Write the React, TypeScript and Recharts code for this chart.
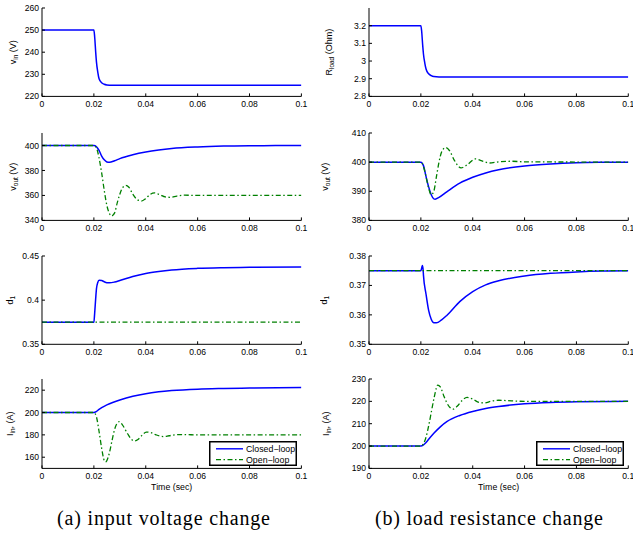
import React from 'react';
import { LineChart, Line, XAxis, YAxis, Legend } from 'recharts';

// ---------- shared ticks ----------
const timeTicks = [0, 0.02, 0.04, 0.06, 0.08, 0.1];

// ---------- (a) input voltage change ----------
const aVinT = [0, 0.02, 0.0203, 0.0207, 0.021, 0.0215, 0.022, 0.023, 0.024, 0.025, 0.027, 0.1];
const aVinClosed = [250, 250, 247, 240, 235.5, 231, 228, 226.2, 225.5, 225.2, 225, 225];

const aVoutClosedT = [0, 0.02, 0.021, 0.022, 0.023, 0.024, 0.025, 0.026, 0.028, 0.03, 0.035, 0.04, 0.045, 0.05, 0.06, 0.07, 0.08, 0.09, 0.1];
const aVoutClosed = [400, 400, 399, 396, 391.5, 388.5, 386.8, 386.5, 387.8, 389.5, 392.5, 394.7, 396.3, 397.5, 398.8, 399.5, 399.8, 399.9, 400];
const aVoutOpenT = [0, 0.02, 0.021, 0.022, 0.023, 0.024, 0.025, 0.026, 0.0268, 0.028, 0.029, 0.03, 0.031, 0.0323, 0.0335, 0.035, 0.0365, 0.0383, 0.04, 0.0415, 0.0434, 0.0455, 0.0475, 0.0495, 0.052, 0.055, 0.06, 0.1];
const aVoutOpen = [400, 400, 398, 390, 378, 364, 352, 345.5, 343.5, 346, 354, 361, 366, 368, 366.5, 361, 357, 355.5, 357.5, 360.5, 362, 360.5, 358.8, 358.5, 359.5, 360.2, 360, 360];

const aD1ClosedT = [0, 0.02, 0.0203, 0.0207, 0.021, 0.0215, 0.022, 0.023, 0.024, 0.025, 0.026, 0.028, 0.03, 0.035, 0.04, 0.045, 0.05, 0.06, 0.07, 0.08, 0.1];
const aD1Closed = [0.375, 0.375, 0.385, 0.402, 0.413, 0.42, 0.4225, 0.4222, 0.4208, 0.4198, 0.4196, 0.4205, 0.4222, 0.4268, 0.4302, 0.4325, 0.4342, 0.436, 0.4368, 0.4372, 0.4375];
const aD1OpenT = [0, 0.1];
const aD1Open = [0.375, 0.375];

const aIinClosedT = [0, 0.02, 0.021, 0.022, 0.023, 0.025, 0.0275, 0.03, 0.035, 0.04, 0.045, 0.05, 0.06, 0.07, 0.08, 0.1];
const aIinClosed = [200, 200, 201, 202.8, 204.3, 206.8, 209.2, 211.2, 214.5, 216.9, 218.5, 219.6, 220.9, 221.5, 221.9, 222.3];
const aIinOpenT = [0, 0.02, 0.021, 0.022, 0.023, 0.024, 0.0245, 0.025, 0.026, 0.027, 0.028, 0.029, 0.0298, 0.031, 0.033, 0.0345, 0.0357, 0.037, 0.0385, 0.0402, 0.042, 0.044, 0.0467, 0.049, 0.052, 0.055, 0.06, 0.1];
const aIinOpen = [200, 200, 196, 183, 168, 157, 155.8, 157, 164, 175, 185, 190.5, 191.8, 189, 181, 176, 174.6, 175.8, 179.5, 182.5, 182, 180, 178.5, 179.2, 180.2, 180.2, 180, 180];

// ---------- (b) load resistance change ----------
const bRloadT = [0, 0.02, 0.0203, 0.0207, 0.021, 0.0215, 0.022, 0.023, 0.024, 0.025, 0.027, 0.1];
const bRloadClosed = [3.2, 3.2, 3.17, 3.09, 3.04, 2.99, 2.955, 2.928, 2.917, 2.912, 2.91, 2.91];

const bVoutClosedT = [0, 0.02, 0.021, 0.022, 0.023, 0.024, 0.025, 0.0255, 0.027, 0.03, 0.035, 0.04, 0.045, 0.05, 0.06, 0.07, 0.08, 0.09, 0.1];
const bVoutClosed = [400, 400, 398.8, 395, 391.5, 388.8, 387.4, 387.3, 387.9, 389.8, 392.8, 394.8, 396.3, 397.4, 398.7, 399.4, 399.8, 399.95, 400];
const bVoutOpenT = [0, 0.02, 0.021, 0.022, 0.023, 0.024, 0.025, 0.026, 0.027, 0.028, 0.0295, 0.031, 0.033, 0.0355, 0.038, 0.041, 0.044, 0.0465, 0.05, 0.055, 0.06, 0.1];
const bVoutOpen = [400, 400, 398.5, 395, 391, 388.8, 390, 395, 400, 403.5, 405, 404, 400.5, 398, 399.2, 401.1, 400.3, 399.7, 400.1, 400.3, 400.1, 400];

const bD1ClosedT = [0, 0.02, 0.0204, 0.0206, 0.0209, 0.021, 0.022, 0.023, 0.024, 0.025, 0.026, 0.028, 0.03, 0.035, 0.04, 0.045, 0.05, 0.06, 0.07, 0.08, 0.09, 0.1];
const bD1Closed = [0.375, 0.375, 0.3762, 0.3768, 0.375, 0.3735, 0.367, 0.3615, 0.3585, 0.3573, 0.3573, 0.3583, 0.3598, 0.3645, 0.3679, 0.3702, 0.3716, 0.3732, 0.3741, 0.3746, 0.3749, 0.375];
const bD1OpenT = [0, 0.1];
const bD1Open = [0.375, 0.375];

const bIinClosedT = [0, 0.02, 0.021, 0.022, 0.023, 0.025, 0.0275, 0.03, 0.035, 0.04, 0.045, 0.05, 0.06, 0.07, 0.08, 0.1];
const bIinClosed = [200, 200, 200.5, 201.6, 203, 205.7, 208.6, 210.9, 213.7, 215.5, 216.8, 217.7, 218.9, 219.5, 219.8, 220];
const bIinOpenT = [0, 0.02, 0.021, 0.022, 0.023, 0.024, 0.025, 0.026, 0.0265, 0.0275, 0.029, 0.031, 0.0325, 0.034, 0.036, 0.0378, 0.04, 0.0425, 0.0445, 0.047, 0.05, 0.055, 0.06, 0.1];
const bIinOpen = [200, 200, 201, 204, 209, 215, 221, 226, 227.3, 226.5, 222, 217.5, 216.5, 217.8, 220.5, 221.8, 221, 219.5, 219.3, 220, 220.5, 220.2, 220, 220];

// ---------- y-axis ticks / domains ----------
const aVinTicks = [220, 230, 240, 250, 260];
const aVoutTicks = [340, 360, 380, 400];
const aD1Ticks = [0.35, 0.4, 0.45];
const aIinTicks = [160, 180, 200, 220];
const bRloadTicks = [2.8, 2.9, 3, 3.1, 3.2];
const bVoutTicks = [380, 390, 400, 410];
const bD1Ticks = [0.35, 0.36, 0.37, 0.38];
const bIinTicks = [190, 200, 210, 220, 230];

const legendLabels = ['Closed\u2212loop', 'Open\u2212loop'];
const captions = ['(a) input voltage change', '(b) load resistance change'];

const mk = (t: number[], v: number[]) => t.map((x, i) => ({ t: x, v: v[i] }));

const SANS = '"Liberation Sans", Arial, Helvetica, sans-serif';
const SERIF = '"Liberation Serif", "Times New Roman", Times, serif';
const BLUE = '#0000ff';
const GREEN = '#008000';
const DASHDOT = '5 2.5 1.5 2.5';

type Series = { data: { t: number; v: number }[]; open: boolean };

type PanelProps = {
  chartLeft: number;
  plotTop: number;
  plotW: number;
  plotH: number;
  yw: number;
  domain: [number, number];
  yTicks: number[];
  main: string;
  sub: string;
  rest: string;
  labelX: number;
  series: Series[];
  showTime?: boolean;
  legend?: { left: number; top: number };
};

const MT = 6;
const MR = 8;

function LegendBox() {
  return (
    <svg width={88} height={25} style={{ display: 'block' }}>
      <rect x={0.75} y={0.75} width={86.5} height={23.5} fill="#fff" stroke="#000" strokeWidth={1.5} />
      <line x1={7} x2={34} y1={7.8} y2={7.8} stroke={BLUE} strokeWidth={1.4} />
      <line x1={7} x2={34} y1={18.6} y2={18.6} stroke={GREEN} strokeWidth={1.4} strokeDasharray={DASHDOT} />
      <text x={37} y={7.8} dominantBaseline="central" fontFamily={SANS} fontSize={8.8} fill="#000">{legendLabels[0]}</text>
      <text x={37} y={18.6} dominantBaseline="central" fontFamily={SANS} fontSize={8.8} fill="#000">{legendLabels[1]}</text>
    </svg>
  );
}

function Panel(p: PanelProps) {
  const xh = p.showTime ? 30 : 18;
  const width = p.yw + p.plotW + MR;
  const height = MT + p.plotH + xh;
  const top = p.plotTop - MT;
  const tickStyle = { fill: '#000', fontSize: 8.6, fontFamily: SANS };
  const yLabel = () => (
    <text
      x={p.labelX}
      y={MT + p.plotH / 2}
      transform={`rotate(-90, ${p.labelX}, ${MT + p.plotH / 2})`}
      textAnchor="middle"
      fontFamily={SANS}
      fontSize={9}
      fill="#000"
    >
      {p.main}
      <tspan fontSize={6.5} dy={2}>{p.sub}</tspan>
      <tspan dy={-2}>{p.rest}</tspan>
    </text>
  );
  const timeLabel = () => (
    <text
      x={p.yw + p.plotW / 2}
      y={MT + p.plotH + 19}
      textAnchor="middle"
      dominantBaseline="central"
      fontFamily={SANS}
      fontSize={8.8}
      fill="#000"
    >
      Time (sec)
    </text>
  );
  return (
    <div style={{ position: 'absolute', left: p.chartLeft, top }}>
      <LineChart width={width} height={height} margin={{ top: MT, right: MR, left: 0, bottom: 0 }}>
        <XAxis
          xAxisId="b"
          dataKey="t"
          type="number"
          domain={[0, 0.1]}
          ticks={timeTicks}
          interval={0}
          allowDataOverflow
          orientation="bottom"
          height={xh}
          tickSize={-3}
          tickMargin={8}
          stroke="#000"
          tick={tickStyle}
          label={p.showTime ? { content: timeLabel } : undefined}
        />
        <XAxis
          xAxisId="t"
          dataKey="t"
          type="number"
          domain={[0, 0.1]}
          ticks={timeTicks}
          interval={0}
          allowDataOverflow
          orientation="top"
          height={0}
          tickSize={-3}
          tick={false}
          stroke="#000"
        />
        <YAxis
          yAxisId="l"
          type="number"
          domain={p.domain}
          ticks={p.yTicks}
          interval={0}
          allowDataOverflow
          width={p.yw}
          tickSize={-3}
          tickMargin={6}
          stroke="#000"
          tick={tickStyle}
          label={{ content: yLabel }}
        />
        <YAxis
          yAxisId="r"
          type="number"
          domain={p.domain}
          ticks={p.yTicks}
          interval={0}
          allowDataOverflow
          orientation="right"
          width={0}
          tickSize={-3}
          tick={false}
          stroke="#000"
        />
        {p.series.map((s, i) => (
          <Line
            key={i}
            xAxisId="b"
            yAxisId="l"
            data={s.data}
            dataKey="v"
            type="monotone"
            stroke={s.open ? GREEN : BLUE}
            strokeWidth={s.open ? 1.3 : 1.5}
            strokeDasharray={s.open ? DASHDOT : undefined}
            dot={false}
            activeDot={false}
            isAnimationActive={false}
          />
        ))}
        {p.legend ? (
          <Legend
            layout="vertical"
            align="center"
            verticalAlign="middle"
            wrapperStyle={{ left: p.legend.left, top: p.legend.top, width: 88, height: 25 }}
            content={() => <LegendBox />}
          />
        ) : null}
      </LineChart>
    </div>
  );
}

const rowTops = [8.3, 132.6, 256, 379];
const rowH = [88.4, 87.4, 88.3, 89.4];

export default function App() {
  const L = { chartLeft: 0.3, plotW: 259.4, yw: 42 };
  const R = { chartLeft: 320, plotW: 259.3, yw: 49 };
  return (
    <div style={{ position: 'absolute', left: 0, top: 0, width: 633, height: 536, overflow: 'hidden', background: '#fff' }}>
      {/* left column */}
      <Panel {...L} plotTop={rowTops[0]} plotH={rowH[0]} domain={[220, 260]} yTicks={aVinTicks}
        main="v" sub="in" rest=" (V)" labelX={16.2}
        series={[{ data: mk(aVinT, aVinClosed), open: false }]} />
      <Panel {...L} plotTop={rowTops[1]} plotH={rowH[1]} domain={[340, 410]} yTicks={aVoutTicks}
        main="v" sub="out" rest=" (V)" labelX={15.7}
        series={[{ data: mk(aVoutClosedT, aVoutClosed), open: false }, { data: mk(aVoutOpenT, aVoutOpen), open: true }]} />
      <Panel {...L} plotTop={rowTops[2]} plotH={rowH[2]} domain={[0.35, 0.45]} yTicks={aD1Ticks}
        main="d" sub="1" rest="" labelX={13.2}
        series={[{ data: mk(aD1ClosedT, aD1Closed), open: false }, { data: mk(aD1OpenT, aD1Open), open: true }]} />
      <Panel {...L} plotTop={rowTops[3]} plotH={rowH[3]} domain={[150, 230]} yTicks={aIinTicks}
        main="I" sub="in" rest=", (A)" labelX={12.6} showTime
        legend={{ left: 208.7, top: 67.7 }}
        series={[{ data: mk(aIinClosedT, aIinClosed), open: false }, { data: mk(aIinOpenT, aIinOpen), open: true }]} />

      {/* right column */}
      <Panel {...R} plotTop={rowTops[0]} plotH={rowH[0]} domain={[2.8, 3.3]} yTicks={bRloadTicks}
        main="R" sub="load" rest=" (Ohm)" labelX={11.7}
        series={[{ data: mk(bRloadT, bRloadClosed), open: false }]} />
      <Panel {...R} plotTop={rowTops[1]} plotH={rowH[1]} domain={[380, 410]} yTicks={bVoutTicks}
        main="v" sub="out" rest=" (V)" labelX={8.3}
        series={[{ data: mk(bVoutClosedT, bVoutClosed), open: false }, { data: mk(bVoutOpenT, bVoutOpen), open: true }]} />
      <Panel {...R} plotTop={rowTops[2]} plotH={rowH[2]} domain={[0.35, 0.38]} yTicks={bD1Ticks}
        main="d" sub="1" rest="" labelX={6.7}
        series={[{ data: mk(bD1ClosedT, bD1Closed), open: false }, { data: mk(bD1OpenT, bD1Open), open: true }]} />
      <Panel {...R} plotTop={rowTops[3]} plotH={rowH[3]} domain={[190, 230]} yTicks={bIinTicks}
        main="I" sub="in" rest=", (A)" labelX={9.3} showTime
        legend={{ left: 216, top: 68 }}
        series={[{ data: mk(bIinClosedT, bIinClosed), open: false }, { data: mk(bIinOpenT, bIinOpen), open: true }]} />

      {/* captions */}
      <svg width={633} height={40} style={{ position: 'absolute', left: 0, top: 496 }}>
        <text x={57} y={28.5} fontFamily={SERIF} fontSize={20}
          textLength={213} lengthAdjust="spacing" fill="#000">{captions[0]}</text>
        <text x={375} y={28.5} fontFamily={SERIF} fontSize={20}
          textLength={228} lengthAdjust="spacing" fill="#000">{captions[1]}</text>
      </svg>
    </div>
  );
}
